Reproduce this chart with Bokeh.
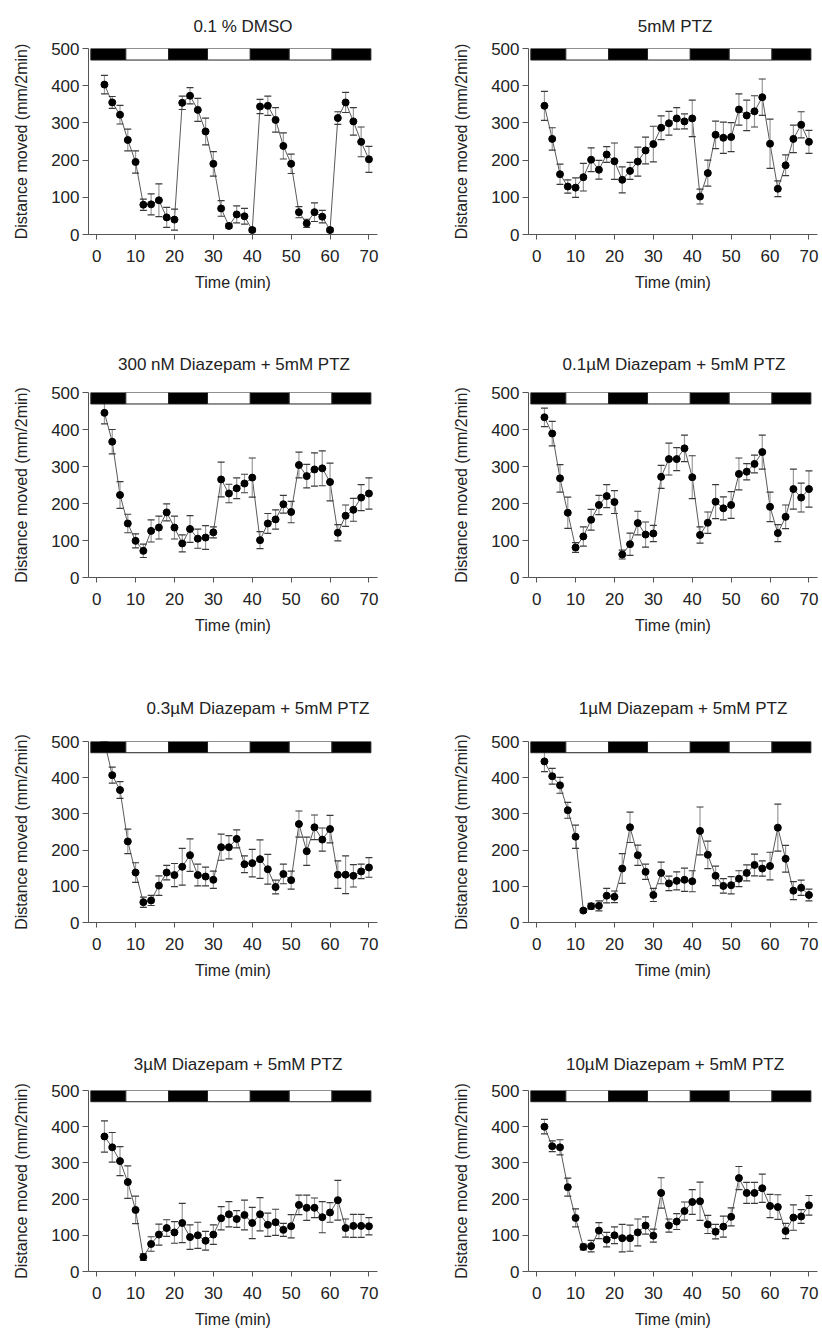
from bokeh.plotting import figure
from bokeh.layouts import column, row
from bokeh.models import ColumnDataSource, FixedTicker, Range1d
from bokeh.embed import file_html
from bokeh.resources import INLINE

# Sampling times (min), one bin every 2 min
time_min = [2, 4, 6, 8, 10, 12, 14, 16, 18, 20, 22, 24, 26, 28, 30, 32, 34, 36,
            38, 40, 42, 44, 46, 48, 50, 52, 54, 56, 58, 60, 62, 64, 66, 68, 70]

# Mean distance moved (mm/2min) and SEM for each treatment
dmso_mean = [403, 355, 322, 254, 195, 80, 81, 92, 46, 40, 354, 373, 335, 277, 190,
             70, 23, 54, 49, 12, 344, 346, 308, 238, 190, 60, 30, 60, 48, 12,
             313, 355, 304, 249, 202]
dmso_sem = [25, 16, 25, 29, 30, 15, 28, 44, 27, 28, 18, 22, 31, 36, 33, 21, 6, 23,
            21, 5, 19, 26, 33, 35, 26, 15, 11, 25, 17, 5, 17, 27, 37, 40, 35]

ptz_mean = [346, 257, 162, 129, 126, 154, 201, 174, 215, 197, 147, 171, 196, 226, 243,
            287, 299, 312, 304, 312, 102, 165, 268, 260, 262, 336, 320, 331, 369, 244,
            123, 186, 257, 295, 249]
ptz_sem = [39, 30, 27, 18, 26, 37, 32, 25, 21, 49, 35, 23, 39, 36, 48, 32, 32, 29,
           20, 49, 20, 35, 37, 42, 39, 42, 41, 42, 49, 66, 21, 28, 37, 35, 31]

dz300n_mean = [445, 367, 223, 146, 99, 72, 126, 135, 176, 135, 92, 131, 105, 108, 122,
               265, 227, 241, 254, 270, 101, 146, 157, 198, 177, 304, 274, 292, 295, 258,
               121, 167, 183, 216, 227]
dz300n_sem = [30, 33, 36, 25, 19, 18, 30, 31, 23, 31, 23, 36, 26, 32, 15, 47, 25, 28,
              25, 53, 23, 27, 26, 24, 29, 35, 32, 45, 47, 51, 22, 29, 31, 35, 42]

dz01_mean = [433, 389, 268, 175, 81, 111, 156, 196, 220, 204, 62, 90, 147, 116, 119,
             272, 320, 320, 349, 271, 115, 148, 205, 187, 196, 280, 286, 307, 339, 191,
             120, 164, 239, 216, 239]
dz01_sem = [25, 33, 37, 42, 13, 26, 28, 26, 31, 31, 12, 30, 32, 34, 22, 31, 43, 31,
            36, 58, 22, 29, 46, 31, 36, 43, 22, 24, 46, 40, 23, 32, 54, 39, 49]

dz03_mean = [500, 407, 366, 224, 138, 56, 61, 102, 138, 131, 154, 186, 131, 127, 118,
             208, 208, 231, 161, 164, 175, 147, 98, 134, 117, 272, 197, 263, 229, 258,
             132, 132, 129, 141, 152]
dz03_sem = [25, 22, 23, 34, 27, 14, 14, 27, 20, 32, 51, 45, 30, 26, 24, 36, 32, 25,
            23, 38, 53, 41, 19, 27, 25, 36, 39, 34, 32, 38, 38, 52, 31, 20, 27]

dz1_mean = [445, 404, 379, 310, 237, 33, 45, 46, 74, 71, 149, 263, 186, 140, 76,
            137, 108, 115, 118, 114, 253, 187, 129, 101, 103, 121, 137, 159, 149, 156,
            262, 176, 88, 96, 76]
dz1_sem = [28, 22, 22, 22, 32, 5, 8, 14, 20, 16, 41, 42, 28, 21, 18, 30, 20, 25,
           32, 29, 66, 38, 27, 20, 24, 22, 22, 30, 21, 38, 65, 37, 25, 21, 16]

dz3_mean = [373, 343, 305, 247, 170, 40, 76, 102, 120, 108, 134, 95, 100, 85, 102,
            147, 158, 145, 156, 134, 158, 129, 136, 115, 125, 184, 176, 176, 150, 163,
            197, 120, 126, 126, 125]
dz3_sem = [43, 41, 40, 45, 38, 9, 20, 29, 23, 30, 54, 34, 36, 26, 27, 32, 35, 23,
           41, 43, 46, 32, 36, 18, 32, 27, 35, 27, 43, 27, 55, 25, 32, 32, 24]

dz10_mean = [400, 346, 343, 233, 148, 68, 70, 113, 88, 100, 92, 92, 108, 127, 99,
             217, 127, 138, 167, 192, 194, 130, 110, 124, 151, 258, 217, 217, 230, 181,
             178, 112, 149, 152, 183]
dz10_sem = [20, 15, 21, 25, 25, 8, 16, 22, 20, 23, 38, 36, 37, 24, 18, 42, 18, 22,
            25, 34, 53, 25, 20, 29, 25, 32, 29, 29, 39, 32, 34, 21, 35, 19, 27]

panel_titles = ["0.1 % DMSO", "5mM PTZ",
                "300 nM Diazepam + 5mM PTZ", "0.1\u00b5M Diazepam + 5mM PTZ",
                "0.3\u00b5M Diazepam + 5mM PTZ", "1\u00b5M Diazepam + 5mM PTZ",
                "3\u00b5M Diazepam + 5mM PTZ", "10\u00b5M Diazepam + 5mM PTZ"]
panel_means = [dmso_mean, ptz_mean, dz300n_mean, dz01_mean,
               dz03_mean, dz1_mean, dz3_mean, dz10_mean]
panel_sems = [dmso_sem, ptz_sem, dz300n_sem, dz01_sem,
              dz03_sem, dz1_sem, dz3_sem, dz10_sem]

# Dark / light phases shown in the bar along the top
phase_start = [-1.5, 7.5, 18.5, 28.5, 39.5, 49.5, 60.5]
phase_end = [7.5, 18.5, 28.5, 39.5, 49.5, 60.5, 70.5]
phase_fill = ["black", "white", "black", "white", "black", "white", "black"]
bar_bottom = 469
bar_top = 500

x_ticks = [0, 10, 20, 30, 40, 50, 60, 70]
y_ticks = [0, 100, 200, 300, 400, 500]

FONT = "Liberation Sans"
TEXT = "#222222"
AXIS = "#555555"
TITLE_PX = 17

# page geometry (pixels)
FIG_W = 411
ROW_H = [332, 339, 363, 297]
BORDER_TOP = [48, 60, 70, 56]
TITLE_STANDOFF = [26, 38, 48, 34]
FRAME_H = [186, 185, 181, 181]
BORDER_LEFT = [88, 117]
FRAME_W = 289
# horizontal shift of each title centre from the frame centre
TITLE_SHIFT = [10, 2, 1, 1, 25, 10, 5, 2]

# advance widths of Liberation Sans (Arial metrics), per 1000 em
GLYPH_W = {" ": 278, ".": 278, "%": 889, "+": 584, "\u00b5": 576,
           "D": 722, "M": 833, "S": 667, "O": 778, "P": 667, "T": 611, "Z": 611,
           "a": 556, "e": 556, "i": 222, "m": 833, "n": 556, "p": 556, "z": 500}


def text_width(s, px):
    return sum(GLYPH_W.get(ch, 556) for ch in s) * px / 1000.0


def make_panel(idx):
    col = idx % 2
    r = idx // 2
    bottom = ROW_H[r] - BORDER_TOP[r] - FRAME_H[r]
    right = FIG_W - BORDER_LEFT[col] - FRAME_W
    p = figure(width=FIG_W, height=ROW_H[r], output_backend="svg",
               toolbar_location=None,
               x_range=Range1d(-2.1, 72.2), y_range=Range1d(0, 500),
               min_border_left=BORDER_LEFT[col], min_border_right=right,
               min_border_top=BORDER_TOP[r], min_border_bottom=bottom,
               title=panel_titles[idx])
    p.outline_line_color = None
    p.grid.grid_line_color = None
    p.background_fill_color = "white"
    p.border_fill_color = "white"

    p.title.align = "left"
    p.title.offset = FRAME_W / 2 + TITLE_SHIFT[idx] - text_width(panel_titles[idx], TITLE_PX) / 2
    p.title.text_font = FONT
    p.title.text_font_size = f"{TITLE_PX}px"
    p.title.text_font_style = "normal"
    p.title.text_color = TEXT
    p.title.standoff = TITLE_STANDOFF[r]

    mean = panel_means[idx]
    sem = panel_sems[idx]
    src = ColumnDataSource(dict(
        t=time_min, m=mean,
        lo=[a - b for a, b in zip(mean, sem)],
        hi=[a + b for a, b in zip(mean, sem)]))

    p.line("t", "m", source=src, line_color="#5a5a5a", line_width=1)
    p.segment(x0="t", y0="lo", x1="t", y1="hi", source=src,
              line_color="#9a9a9a", line_width=1.2)
    p.scatter("t", "hi", source=src, marker="dash", size=7,
              line_color="#3a3a3a", line_width=1.2)
    p.scatter("t", "lo", source=src, marker="dash", size=7,
              line_color="#3a3a3a", line_width=1.2)
    p.scatter("t", "m", source=src, marker="circle", size=7,
              fill_color="black", line_color="black")

    p.quad(left=phase_start, right=phase_end,
           bottom=[bar_bottom] * len(phase_start), top=[bar_top] * len(phase_start),
           fill_color=phase_fill, line_color="#222222", line_width=1)

    p.xaxis.ticker = FixedTicker(ticks=x_ticks)
    p.yaxis.ticker = FixedTicker(ticks=y_ticks)
    p.xaxis.axis_label = "Time (min)"
    p.yaxis.axis_label = "Distance moved (mm/2min)"
    for ax in (p.xaxis, p.yaxis):
        ax.axis_line_color = AXIS
        ax.axis_line_width = 1
        ax.major_tick_line_color = AXIS
        ax.major_tick_in = 0
        ax.minor_tick_line_color = None
        ax.major_label_text_font = FONT
        ax.major_label_text_font_size = "17px"
        ax.major_label_text_color = TEXT
        ax.axis_label_text_font = FONT
        ax.axis_label_text_font_size = "16px"
        ax.axis_label_text_font_style = "normal"
        ax.axis_label_text_color = TEXT
    p.xaxis.major_tick_out = 5
    p.xaxis.major_label_standoff = 10
    p.xaxis.axis_label_standoff = 9
    p.yaxis.major_tick_out = 6
    p.yaxis.major_label_standoff = 3
    p.yaxis.axis_label_standoff = 18
    return p


panels = [make_panel(i) for i in range(8)]
page = column(*[row(panels[2 * k], panels[2 * k + 1]) for k in range(4)])

with open("out.html", "w") as f:
    f.write(file_html(page, INLINE))
